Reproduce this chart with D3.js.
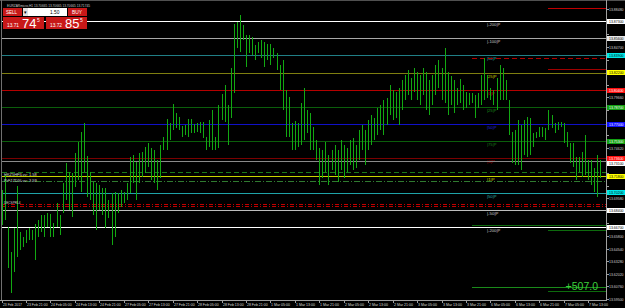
<!DOCTYPE html>
<html><head><meta charset="utf-8">
<script src="https://cdn.jsdelivr.net/npm/d3@7"></script>
<style>html,body{margin:0;padding:0;background:#000;overflow:hidden}svg{display:block}</style>
</head><body><svg id="c" width="625" height="308"></svg>
<script>
// ---- data ----
const highs=[13.704,13.719,13.667,13.642,13.666,13.708,13.662,13.657,13.664,13.666,13.664,13.670,13.674,13.679,13.679,13.681,13.680,13.671,13.691,13.679,
13.711,13.731,13.722,13.721,13.741,13.752,13.762,13.771,13.738,13.722,13.712,13.711,13.709,13.706,13.706,13.694,13.701,13.702,13.701,13.704,
13.702,13.711,13.737,13.739,13.732,13.741,13.742,13.747,13.751,13.746,13.744,13.734,13.749,13.757,13.775,13.771,13.790,13.781,13.777,13.768,
13.769,13.775,13.775,13.770,13.771,13.772,13.772,13.757,13.774,13.784,13.757,13.789,13.800,13.809,13.789,13.826,13.870,13.872,13.879,13.869,
13.859,13.859,13.857,13.849,13.852,13.854,13.852,13.850,13.850,13.846,13.841,13.829,13.834,13.804,13.797,13.771,13.773,13.771,13.791,13.806,
13.784,13.781,13.767,13.754,13.746,13.744,13.752,13.739,13.744,13.749,13.744,13.754,13.749,13.746,13.754,13.756,13.749,13.764,13.769,13.764,
13.774,13.779,13.776,13.786,13.789,13.794,13.796,13.809,13.804,13.802,13.806,13.814,13.819,13.824,13.816,13.826,13.822,13.819,13.826,13.822,
13.814,13.819,13.829,13.834,13.826,13.846,13.822,13.818,13.814,13.806,13.815,13.809,13.802,13.801,13.801,13.799,13.801,13.819,13.836,13.819,
13.806,13.804,13.816,13.829,13.826,13.814,13.794,13.762,13.764,13.774,13.769,13.774,13.777,13.776,13.761,13.762,13.767,13.767,13.766,13.784,
13.779,13.771,13.772,13.772,13.771,13.762,13.751,13.751,13.737,13.737,13.742,13.759,13.734,13.734,13.726,13.739,13.734];
const lows=[13.669,13.674,13.626,13.601,13.622,13.637,13.644,13.647,13.651,13.654,13.654,13.634,13.657,13.662,13.657,13.667,13.657,13.657,13.667,13.659,
13.681,13.694,13.684,13.677,13.707,13.714,13.702,13.722,13.697,13.694,13.679,13.664,13.684,13.679,13.666,13.676,13.649,13.657,13.681,13.687,
13.691,13.694,13.701,13.711,13.694,13.711,13.717,13.721,13.727,13.714,13.711,13.704,13.716,13.744,13.744,13.754,13.764,13.766,13.764,13.757,
13.759,13.757,13.761,13.761,13.762,13.761,13.756,13.744,13.747,13.744,13.744,13.746,13.774,13.772,13.749,13.776,13.801,13.846,13.842,13.854,
13.827,13.841,13.839,13.834,13.841,13.836,13.827,13.834,13.829,13.836,13.824,13.804,13.784,13.757,13.757,13.744,13.744,13.747,13.749,13.754,
13.761,13.744,13.744,13.734,13.709,13.716,13.722,13.709,13.724,13.719,13.712,13.724,13.716,13.722,13.729,13.724,13.726,13.734,13.744,13.729,
13.744,13.749,13.754,13.759,13.764,13.759,13.769,13.779,13.774,13.776,13.769,13.784,13.794,13.799,13.794,13.802,13.794,13.789,13.799,13.784,
13.779,13.789,13.799,13.806,13.794,13.791,13.779,13.789,13.781,13.789,13.791,13.784,13.786,13.789,13.791,13.776,13.786,13.789,13.794,13.796,
13.794,13.789,13.784,13.794,13.794,13.794,13.759,13.731,13.729,13.729,13.724,13.739,13.737,13.739,13.747,13.756,13.757,13.757,13.754,13.764,
13.766,13.761,13.764,13.767,13.751,13.747,13.731,13.727,13.714,13.722,13.717,13.719,13.714,13.709,13.702,13.697,13.716];
const timeLabels=["23 Feb 2017","23 Feb 21:00","24 Feb 05:00","24 Feb 13:00","24 Feb 21:00","27 Feb 05:00","27 Feb 13:00","27 Feb 21:00","28 Feb 05:00","28 Feb 13:00","28 Feb 21:00","1 Mar 05:00","1 Mar 13:00","1 Mar 21:00","2 Mar 05:00","2 Mar 13:00","2 Mar 21:00","3 Mar 05:00","3 Mar 13:00","3 Mar 21:00","6 Mar 05:00","6 Mar 13:00","6 Mar 21:00","7 Mar 05:00","7 Mar 13:00"];
const priceTicks=[13.5950,13.6076,13.6202,13.6328,13.6454,13.6580,13.6706,13.6832,13.6958,13.7084,13.7210,13.7336,13.7462,13.7588,13.7714,13.7840,13.7966,13.8092,13.8218,13.8344,13.8470,13.8596,13.8722,13.8848];
// horizontal levels: price, start bar, text label
const levelPrices=[13.873,13.856,13.839,13.836,13.886,13.825,13.821,13.804,13.787,13.770,13.753,13.736,13.733,13.722,13.718,13.713,13.701,13.690,13.688,13.684,13.669,13.667,13.664,13.607,13.603];
const levelStart =[0,0,0,154,179,179,0,0,0,0,0,0,0,0,0,0,0,0,0,0,154,0,179,154,179];
const levelText  =["|-200|P","|-100|P","|50|P","","","","|25|P","|0|P","|25|P","|50|P","|75|P","|0|P","","","|1|P","","|50|P","","","|-50|P","","|-200|P","","",""];
const axisMarks=[13.873,13.856,13.839,13.822,13.804,13.787,13.770,13.753,13.736,13.731,13.718,13.702,13.684,13.667];
const profitText="+507.0";
const bidPrice=["13.71","74","5"], askPrice=["13.72","85","5"], lotSize="1.50";
const title="EURZARmicro,H1  13.70665 13.70665 13.70665 13.71745";
const sideTexts=["HKZ5HFILvv: 1.58","PrF17D5Lvv: 3.59","DECSPRL4"];
const sidePrices=[13.720,13.714,13.692];

// ---- styles ----
const levelStyle=[
 {c:"#ffffff",w:1.4},{c:"#a8a8a8",w:1.2},{c:"#207f86",w:1.2},{c:"#b00000",w:1.2,d:"5,3"},{c:"#c00000",w:1},{c:"#a00000",w:1},
 {c:"#7f7f10",w:1.2},{c:"#b40000",w:1.2},{c:"#0b5e0b",w:1},{c:"#1010c8",w:1.4},{c:"#0b5e0b",w:1},{c:"#7a0000",w:1.4},{c:"#8a8a8a",w:1},
 {c:"#1a7a1a",w:1,d:"5,3"},{c:"#c8d400",w:1.4},{c:"#2f7a2f",w:1,d:"6,2,1,2"},{c:"#1fa3a8",w:1.2},{c:"#c00000",w:1,d:"4,2,1,2"},{c:"#c00000",w:1,d:"4,2,1,2"},
 {c:"#bdbdbd",w:1.2},{c:"#0d6a0d",w:1},{c:"#ffffff",w:1.4},{c:"#0d6a0d",w:1.4},{c:"#1a8a1a",w:1},{c:"#0d6a0d",w:1}];
const textColor=["#c8c8c8","#c8c8c8","#2aa5a5","","","","#c8c800","#c00000","#1a8a1a","#2222dd","#1a7a1a","#b00000","","","#c8c800","","#2aa5a5","","","#c8c8c8","","#c8c8c8","","",""];
const markBg=["#ffffff","#e8e8e8","#00e8e8","#ffff00","#ff1010","#12a012","#1010ff","#12a012","#ff1010","#ffffff","#ffff00","#00e8e8","#ffffff","#ffffff"];
const markFg=["#000","#000","#000","#000","#fff","#fff","#fff","#fff","#fff","#000","#000","#000","#000","#000"];

const W=625,H=308, plotR=606, axisY=300;
const FONT="Liberation Sans";
const svg=d3.select("#c").attr("shape-rendering","crispEdges");
svg.append("rect").attr("width",W).attr("height",H).attr("fill","#000");
const x=d3.scaleLinear().domain([0,196]).range([1.5,600.4]);
const y=d3.scaleLinear().domain([13.586,13.894]).range([308,0]);

function txt(g,xx,yy,s,size,fill,len){
  const t=g.append("text").attr("x",xx).attr("y",yy).attr("fill",fill)
   .attr("font-family",FONT).attr("font-size",size).text(s);
  if(len) t.attr("textLength",len).attr("lengthAdjust","spacingAndGlyphs");
  return t;
}

// levels
const lv=svg.append("g");
levelPrices.forEach((p,i)=>{
  const s=levelStyle[i];
  lv.append("line").attr("x1",levelStart[i]?x(levelStart[i]):2).attr("x2",plotR)
    .attr("y1",Math.round(y(p))+0.5).attr("y2",Math.round(y(p))+0.5)
    .attr("stroke",s.c).attr("stroke-width",s.w).attr("stroke-dasharray",s.d||null);
  if(levelText[i]) txt(lv,487,Math.round(y(p))+5,levelText[i],4.4,textColor[i],levelText[i].length*1.9);
});

// bars
const bars=svg.append("g");
bars.selectAll("line").data(highs).join("line")
  .attr("x1",(d,i)=>Math.round(x(i))+0.5).attr("x2",(d,i)=>Math.round(x(i))+0.5)
  .attr("y1",d=>y(d)).attr("y2",(d,i)=>y(lows[i]))
  .attr("stroke","#12a812").attr("stroke-width",1);

// frame
svg.append("line").attr("x1",0).attr("x2",W).attr("y1",0.5).attr("y2",0.5).attr("stroke","#505050");
svg.append("line").attr("x1",1.5).attr("x2",1.5).attr("y1",0).attr("y2",axisY).attr("stroke","#707070");
svg.append("line").attr("x1",plotR+0.5).attr("x2",plotR+0.5).attr("y1",0).attr("y2",axisY+1).attr("stroke","#a0a0a0");
svg.append("line").attr("x1",0).attr("x2",plotR+1).attr("y1",axisY+0.5).attr("y2",axisY+0.5).attr("stroke","#a0a0a0");

// price axis (plain labels hidden where a marker box covers them)
const pa=svg.append("g");
const markY=axisMarks.map(p=>Math.round(y(p)));
priceTicks.forEach(p=>{
  const yy=Math.round(y(p))+0.5;
  pa.append("line").attr("x1",plotR).attr("x2",plotR+3).attr("y1",yy).attr("y2",yy).attr("stroke","#a0a0a0");
  if(markY.every(m=>Math.abs(m-yy)>5.5)) txt(pa,609,yy+1.6,p.toFixed(5),4.2,"#d0d0d0",14.5);
});
axisMarks.forEach((p,i)=>{
  const yy=markY[i];
  pa.append("rect").attr("x",607).attr("y",yy-2.5).attr("width",18).attr("height",5.5).attr("fill",markBg[i]);
  txt(pa,609,yy+1.6,p.toFixed(5),3.6,markFg[i],14.5);
});

// time axis
const ta=svg.append("g");
timeLabels.forEach((t,j)=>{
  const xx=Math.round(x(j*8))+0.5;
  ta.append("line").attr("x1",xx).attr("x2",xx).attr("y1",axisY).attr("y2",axisY+3).attr("stroke","#a0a0a0");
  txt(ta,xx+0.5,305.5,t,4.2,"#d8d8d8",t.length*1.72);
});

// profit text
svg.append("text").attr("x",598).attr("y",290).attr("text-anchor","end").attr("fill","#3ccf3c")
  .attr("font-family",FONT).attr("font-size",10.5).text(profitText);

// side labels
sideTexts.forEach((t,i)=>txt(svg,4,y(sidePrices[i])+1.5,t,4.2,"#d0d0d0",t.length*2.05));

// title
txt(svg,7,6.5,title,4.3,"#c8c8c8",83);

// trade panel
const tp=svg.append("g");
tp.append("rect").attr("x",3).attr("y",8).attr("width",19).attr("height",8).attr("fill","#c81818");
txt(tp,6,14,"SELL",4.5,"#fff",11);
tp.append("rect").attr("x",23).attr("y",8).attr("width",44).attr("height",8).attr("fill","#fff");
tp.append("rect").attr("x",23).attr("y",8).attr("width",5).attr("height",8).attr("fill","#e0e0e0");
txt(tp,24,14,"▾",4.5,"#000");
txt(tp,50,14,lotSize,4.8,"#000");
tp.append("rect").attr("x",68).attr("y",8).attr("width",19).attr("height",8).attr("fill","#c81818");
txt(tp,72,14,"BUY",4.5,"#fff",10);
[[3,41,bidPrice],[46,41,askPrice]].forEach(([bx,bw,pr])=>{
  tp.append("rect").attr("x",bx).attr("y",17).attr("width",bw).attr("height",12).attr("fill","#c81818");
  txt(tp,bx+4,26.5,pr[0],4.6,"#fff",12);
  txt(tp,bx+19,28,pr[1],13,"#fff");
  txt(tp,bx+34,22,pr[2],5,"#fff");
});
</script></body></html>
